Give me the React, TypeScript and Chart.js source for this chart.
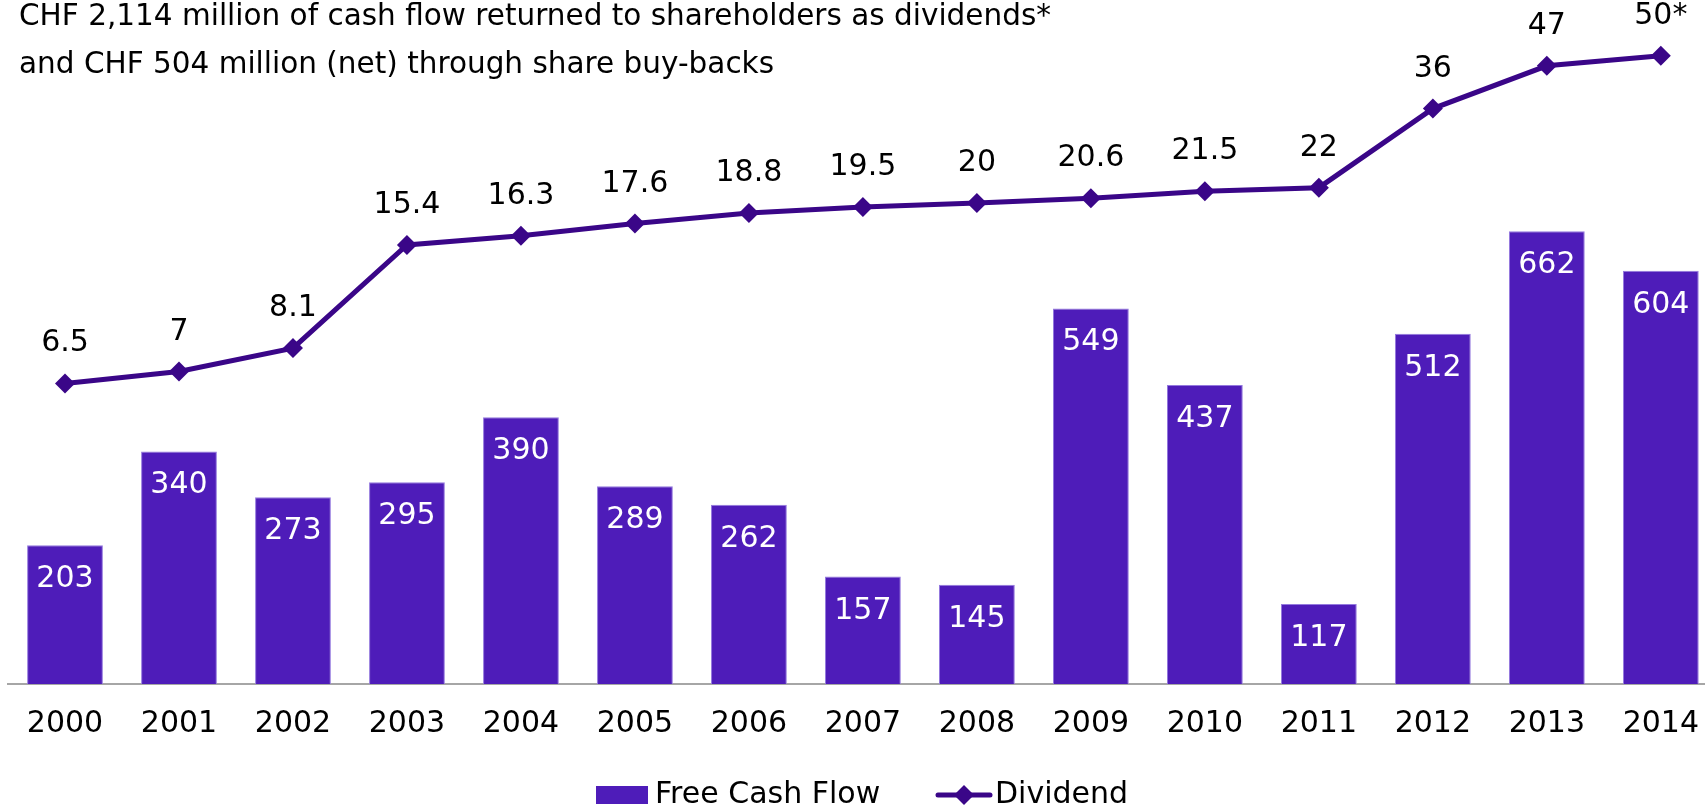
import React, { useEffect, useRef } from "react";
import { Chart, registerables } from "chart.js";

Chart.register(...registerables);

const years = ["2000", "2001", "2002", "2003", "2004", "2005", "2006", "2007", "2008", "2009", "2010", "2011", "2012", "2013", "2014"];
const freeCashFlow = [203, 340, 273, 295, 390, 289, 262, 157, 145, 549, 437, 117, 512, 662, 604];
const dividend = [6.5, 7, 8.1, 15.4, 16.3, 17.6, 18.8, 19.5, 20, 20.6, 21.5, 22, 36, 47, 50];
const dividendLabels = ["6.5", "7", "8.1", "15.4", "16.3", "17.6", "18.8", "19.5", "20", "20.6", "21.5", "22", "36", "47", "50*"];
const titleLines = [
  "CHF 2,114 million of cash flow returned to shareholders as dividends*",
  "and CHF 504 million (net) through share buy-backs",
];
const legendLabels = ["Free Cash Flow", "Dividend"];

const BAR_COLOR = "#4E1CB9";
const BAR_EDGE = "#9479DE";
const LINE_COLOR = "#3A0688";
const FONT = "'DejaVu Sans', Verdana, sans-serif";

const overlayPlugin = {
  id: "overlay",
  afterDatasetsDraw(chart: any) {
    const ctx = chart.ctx;
    ctx.save();
    ctx.font = `30px ${FONT}`;
    ctx.textAlign = "center";
    ctx.textBaseline = "alphabetic";
    const barMeta = chart.getDatasetMeta(0);
    ctx.fillStyle = "#FFFFFF";
    barMeta.data.forEach((el: any, i: number) => {
      ctx.fillText(String(freeCashFlow[i]), el.x, el.y + 42);
    });
    const lineMeta = chart.getDatasetMeta(1);
    ctx.fillStyle = "#000000";
    lineMeta.data.forEach((el: any, i: number) => {
      ctx.fillText(dividendLabels[i], el.x, el.y - 32);
    });
    ctx.restore();
  },
  afterDraw(chart: any) {
    const ctx = chart.ctx;
    ctx.save();
    ctx.font = `29.5px ${FONT}`;
    ctx.fillStyle = "#000000";
    ctx.textAlign = "left";
    ctx.textBaseline = "alphabetic";
    ctx.fillText(titleLines[0], 19, 25);
    ctx.fillText(titleLines[1], 19, 73);

    // legend
    ctx.font = `30px ${FONT}`;
    const ly = 795;
    ctx.fillStyle = BAR_COLOR;
    ctx.fillRect(596, ly - 9, 52, 18);
    ctx.fillStyle = "#000000";
    ctx.textBaseline = "middle";
    ctx.fillText(legendLabels[0], 655, ly);
    ctx.strokeStyle = LINE_COLOR;
    ctx.lineWidth = 5;
    ctx.lineCap = "round";
    ctx.beginPath();
    ctx.moveTo(938, ly);
    ctx.lineTo(990, ly);
    ctx.stroke();
    ctx.fillStyle = LINE_COLOR;
    ctx.beginPath();
    ctx.moveTo(964 - 10, ly);
    ctx.lineTo(964, ly - 10);
    ctx.lineTo(964 + 10, ly);
    ctx.lineTo(964, ly + 10);
    ctx.closePath();
    ctx.fill();
    ctx.fillStyle = "#000000";
    ctx.fillText(legendLabels[1], 995, ly);
    ctx.restore();
  },
};

export default function App() {
  const ref = useRef<HTMLCanvasElement | null>(null);
  useEffect(() => {
    if (!ref.current) return;
    Chart.defaults.font.family = FONT;
    const chart = new Chart(ref.current, {
      type: "bar",
      data: {
        labels: years,
        datasets: [
          {
            type: "bar",
            label: legendLabels[0],
            data: freeCashFlow,
            backgroundColor: BAR_COLOR,
            borderColor: BAR_EDGE,
            borderWidth: 1,
            barPercentage: 0.665,
            categoryPercentage: 1,
            yAxisID: "y",
            order: 2,
          },
          {
            type: "line",
            label: legendLabels[1],
            data: dividend,
            borderColor: LINE_COLOR,
            backgroundColor: LINE_COLOR,
            borderWidth: 5,
            pointStyle: "rectRot",
            pointRadius: 10,
            pointBorderWidth: 0,
            pointBackgroundColor: LINE_COLOR,
            tension: 0,
            clip: false,
            yAxisID: "y2",
            order: 1,
          } as any,
        ],
      },
      options: {
        responsive: false,
        animation: false,
        devicePixelRatio: 1,
        layout: { autoPadding: false, padding: { left: 8, right: 0, top: 0, bottom: 43 } },
        plugins: { legend: { display: false }, tooltip: { enabled: false } },
        scales: {
          x: {
            grid: { display: false, drawTicks: false },
            border: { display: true, color: "#A6A6A6", width: 2 },
            ticks: { color: "#000000", font: { size: 30, family: FONT }, padding: 22, maxRotation: 0, autoSkip: false },
          },
          y: { display: false, min: 0, max: 1000 },
          y2: { display: false, type: "logarithmic", min: 1, max: 70.8 },
        },
      },
      plugins: [overlayPlugin],
    } as any);
    return () => chart.destroy();
  }, []);
  return (
    <div style={{ position: "fixed", left: 0, top: 0, width: 1705, height: 807, overflow: "hidden", background: "#fff" }}>
      <canvas ref={ref} width={1721} height={807} style={{ display: "block" }} />
    </div>
  );
}
